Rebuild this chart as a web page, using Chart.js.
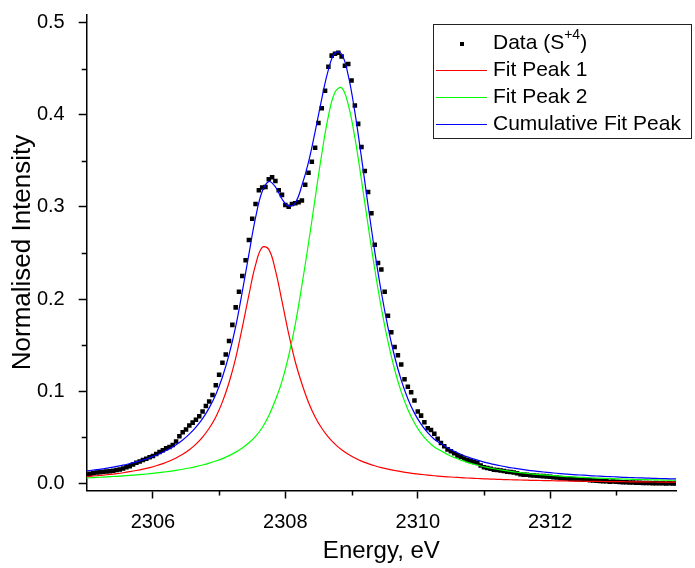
<!DOCTYPE html>
<html>
<head>
<meta charset="utf-8">
<script src="https://cdn.jsdelivr.net/npm/chart.js@4.4.1/dist/chart.umd.min.js"></script>
<style>
  html, body { margin: 0; padding: 0; background: #fff; }
  #wrap { width: 695px; height: 568px; }
</style>
</head>
<body>
<div id="wrap"><canvas id="xanes" width="695" height="568"></canvas></div>
<script>
// measured points, 0.05 eV step from 2305.00
const dataStart = 2305.0;
const dataStep = 0.05;
const dataIntensity = [
  0.0098, 0.0105, 0.0112, 0.0118, 0.0121, 0.0127, 0.0130, 0.0133, 0.0138, 0.0146, 0.0152, 0.0163, 0.0175, 0.0188, 0.0205, 0.0226, 0.0238, 0.0255, 0.0268, 0.0284,
  0.0298, 0.0320, 0.0342, 0.0360, 0.0381, 0.0396, 0.0418, 0.0455, 0.0512, 0.0555, 0.0585, 0.0628, 0.0660, 0.0692, 0.0728, 0.0780, 0.0840, 0.0890, 0.0960, 0.1065,
  0.1180, 0.1310, 0.1400, 0.1545, 0.1720, 0.1910, 0.2080, 0.2250, 0.2420, 0.2640, 0.2870, 0.3030, 0.3180, 0.3210, 0.3215, 0.3300, 0.3320, 0.3280, 0.3180, 0.3130,
  0.3020, 0.3000, 0.3030, 0.3040, 0.3050, 0.3070, 0.3240, 0.3370, 0.3490, 0.3640, 0.3910, 0.4070, 0.4260, 0.4520, 0.4640, 0.4660, 0.4670, 0.4630, 0.4530, 0.4550,
  0.4370, 0.4100, 0.3900, 0.3650, 0.3390, 0.3160, 0.2930, 0.2590, 0.2390, 0.2320, 0.2080, 0.1820, 0.1640, 0.1480, 0.1390, 0.1290, 0.1130, 0.1050, 0.0990, 0.0900,
  0.0780, 0.0736, 0.0665, 0.0600, 0.0580, 0.0540, 0.0485, 0.0440, 0.0405, 0.0370, 0.0350, 0.0328, 0.0305, 0.0290, 0.0272, 0.0255, 0.0245, 0.0232, 0.0222, 0.0195,
  0.0175, 0.0168, 0.0160, 0.0150, 0.0146, 0.0140, 0.0136, 0.0128, 0.0124, 0.0118, 0.0110, 0.0100, 0.0096, 0.0094, 0.0090, 0.0087, 0.0084, 0.0081, 0.0080, 0.0075,
  0.0072, 0.0068, 0.0066, 0.0060, 0.0058, 0.0054, 0.0051, 0.0049, 0.0046, 0.0044, 0.0042, 0.0040, 0.0036, 0.0033, 0.0031, 0.0027, 0.0025, 0.0024, 0.0020, 0.0021,
  0.0018, 0.0016, 0.0014, 0.0013, 0.0011, 0.0010, 0.0008, 0.0009, 0.0006, 0.0005, 0.0006, 0.0003, 0.0004, 0.0002, 0.0003, 0.0001, 0.0002, 0.0000, 0.0001
];

// fit curves, 0.1 eV step from 2304.95
const fitStart = 2304.95;
const fitStep = 0.1;
const fitPeak1 = [
  0.00726,
  0.00781, 0.00841, 0.00909, 0.00985, 0.01070, 0.01167, 0.01279, 0.01406, 0.01552, 0.01722,
  0.01921, 0.02155, 0.02434, 0.02768, 0.03171, 0.03664, 0.04273, 0.05034, 0.05994, 0.07219,
  0.0885, 0.1095, 0.1360, 0.1694, 0.2046, 0.2370, 0.2561, 0.2539, 0.2312, 0.1975,
  0.1625, 0.1320, 0.1081, 0.0879, 0.0722, 0.0599, 0.0503, 0.0427, 0.0366, 0.0317,
  0.0277, 0.0243, 0.0216, 0.0192, 0.0172, 0.0155, 0.0141, 0.0128, 0.0117, 0.0107,
  0.0099, 0.0091, 0.0084, 0.0078, 0.00726, 0.00678, 0.00634, 0.00594, 0.00557, 0.00524,
  0.00494, 0.00466, 0.00441, 0.00418, 0.00396, 0.00376, 0.00357, 0.00340, 0.00324, 0.00309,
  0.00295, 0.00282, 0.00270, 0.00259, 0.00248, 0.00238, 0.00229, 0.00220, 0.00212, 0.00204,
  0.00196, 0.00189, 0.00182, 0.00176, 0.00170, 0.00164, 0.00159, 0.00154, 0.00149, 0.00144
];
const fitPeak2 = [
  0.00593,
  0.00624, 0.00658, 0.00695, 0.00735, 0.00779, 0.00826, 0.00878, 0.00935, 0.00998, 0.01067,
  0.01143, 0.01228, 0.01323, 0.01428, 0.01547, 0.01681, 0.01833, 0.02007, 0.02205, 0.02434,
  0.0270, 0.0302, 0.0340, 0.0386, 0.0442, 0.0512, 0.0605, 0.0735, 0.0905, 0.1110,
  0.1385, 0.1725, 0.2150, 0.2605, 0.3093, 0.3573, 0.3983, 0.4243, 0.4292, 0.4109,
  0.3750, 0.3290, 0.2798, 0.2326, 0.1902, 0.1538, 0.1236, 0.0993, 0.0803, 0.0656,
  0.0544, 0.0460, 0.0396, 0.0355, 0.0315, 0.0282, 0.02536, 0.02293, 0.02083, 0.01900,
  0.01740, 0.01599, 0.01474, 0.01363, 0.01265, 0.01176, 0.01096, 0.01024, 0.00959, 0.00900,
  0.00846, 0.00797, 0.00752, 0.00711, 0.00673, 0.00638, 0.00605, 0.00575, 0.00547, 0.00522,
  0.00497, 0.00475, 0.00454, 0.00434, 0.00416, 0.00399, 0.00383, 0.00367, 0.00353, 0.00339
];
const fitCumulative = [
  0.0132,
  0.0141, 0.0150, 0.0160, 0.0172, 0.0185, 0.0199, 0.0216, 0.0234, 0.0255, 0.0279,
  0.0306, 0.0338, 0.0376, 0.0420, 0.0472, 0.0535, 0.0611, 0.0704, 0.0820, 0.0965,
  0.1155, 0.1397, 0.1700, 0.2080, 0.2488, 0.2882, 0.3166, 0.3274, 0.3217, 0.3085,
  0.3010, 0.3045, 0.3231, 0.3484, 0.3815, 0.4172, 0.4486, 0.4670, 0.4658, 0.4426,
  0.4027, 0.3533, 0.3014, 0.2518, 0.2074, 0.1693, 0.1377, 0.1121, 0.0920, 0.0763,
  0.0643, 0.0551, 0.0480, 0.0433, 0.0388, 0.0350, 0.0317, 0.0289, 0.0264, 0.0242,
  0.0223, 0.0207, 0.0192, 0.0178, 0.0166, 0.0155, 0.0145, 0.0136, 0.0128, 0.0121,
  0.0114, 0.0108, 0.0102, 0.0097, 0.0092, 0.0088, 0.0083, 0.0080, 0.0076, 0.0073,
  0.0069, 0.0066, 0.0064, 0.0061, 0.0059, 0.0056, 0.0054, 0.0052, 0.0050, 0.0048
];

const seriesNames = ['Data (S+4)', 'Fit Peak 1', 'Fit Peak 2', 'Cumulative Fit Peak'];
const xMinorTicks = [2307, 2309, 2311, 2313];
const yMinorTicks = [0.05, 0.15, 0.25, 0.35, 0.45];

const FONT = '"Liberation Sans", Arial, sans-serif';
Chart.defaults.font.family = FONT;
Chart.defaults.color = '#000';

function toPoints(values, start, step) {
  return values.map((v, i) => ({ x: +(start + i * step).toFixed(3), y: v }));
}

// Origin style short ticks in between the labelled ones
const minorTicks = {
  id: 'minorTicks',
  afterDraw(chart) {
    const { ctx, chartArea } = chart;
    const xs = chart.scales.x, ys = chart.scales.y;
    ctx.save();
    ctx.strokeStyle = '#000';
    ctx.lineWidth = 1.5;
    ctx.beginPath();
    xMinorTicks.forEach(v => {
      const px = Math.round(xs.getPixelForValue(v)) + 0.5;
      ctx.moveTo(px, chartArea.bottom);
      ctx.lineTo(px, chartArea.bottom + 5);
    });
    yMinorTicks.forEach(v => {
      const py = Math.round(ys.getPixelForValue(v)) + 0.5;
      ctx.moveTo(chartArea.left, py);
      ctx.lineTo(chartArea.left - 5, py);
    });
    ctx.stroke();
    ctx.restore();
  }
};

// legend box in the top right corner, with the superscript charge
const originLegend = {
  id: 'originLegend',
  afterDraw(chart) {
    const ctx = chart.ctx;
    const sets = chart.data.datasets;
    const box = { x: 433.5, y: 24.5, w: 258, h: 114 };
    const rows = [43, 70, 97, 124];
    const textX = 493;
    ctx.save();
    ctx.fillStyle = '#fff';
    ctx.fillRect(box.x, box.y, box.w, box.h);
    ctx.strokeStyle = '#222';
    ctx.lineWidth = 1;
    ctx.strokeRect(box.x, box.y, box.w, box.h);

    ctx.textBaseline = 'middle';
    ctx.textAlign = 'left';
    seriesNames.forEach((name, i) => {
      const y = rows[i];
      const ds = sets.find(d => d.label === name);
      ctx.fillStyle = '#000';
      if (i === 0) {
        ctx.fillRect(460, y - 1, 4, 4);
        // "Data (S" + sup "+4" + ")"
        const m = name.match(/^(.*S)\+(\d)(\))$/);
        ctx.font = '21px ' + FONT;
        ctx.fillText(m[1], textX, y);
        let x = textX + ctx.measureText(m[1]).width;
        ctx.font = '14px ' + FONT;
        ctx.fillText('+' + m[2], x, y - 8);
        x += ctx.measureText('+' + m[2]).width;
        ctx.font = '21px ' + FONT;
        ctx.fillText(m[3], x, y);
      } else {
        ctx.strokeStyle = ds.borderColor;
        ctx.lineWidth = 1.2;
        ctx.beginPath();
        ctx.moveTo(436, y + 0.5);
        ctx.lineTo(487, y + 0.5);
        ctx.stroke();
        ctx.font = '21px ' + FONT;
        ctx.fillText(name, textX, y);
      }
    });
    ctx.restore();
  }
};

const lineStyle = { pointRadius: 0, borderWidth: 1.2, fill: false, tension: 0.4 };

new Chart(document.getElementById('xanes'), {
  type: 'line',
  data: {
    datasets: [
      Object.assign({ label: seriesNames[3], data: toPoints(fitCumulative, fitStart, fitStep), borderColor: '#0000ff' }, lineStyle),
      Object.assign({ label: seriesNames[2], data: toPoints(fitPeak2, fitStart, fitStep), borderColor: '#00ff00' }, lineStyle),
      Object.assign({ label: seriesNames[1], data: toPoints(fitPeak1, fitStart, fitStep), borderColor: '#ff0000' }, lineStyle),
      {
        label: seriesNames[0],
        data: toPoints(dataIntensity, dataStart, dataStep),
        showLine: false,
        pointStyle: 'rect',
        pointRadius: 3.2,
        pointBorderWidth: 0,
        pointBackgroundColor: '#000',
        borderColor: '#000'
      }
    ]
  },
  options: {
    responsive: false,
    animation: false,
    devicePixelRatio: 1,
    layout: { padding: { left: 0, right: 19, top: 14.5, bottom: 0 } },
    plugins: { legend: { display: false }, tooltip: { enabled: false } },
    scales: {
      x: {
        type: 'linear',
        min: 2305,
        max: 2313.9,
        afterFit: s => { s.height = 77.5; s.paddingLeft = 0; s.paddingRight = 0; },
        border: { display: true, color: '#000', width: 1.5 },
        grid: { drawOnChartArea: false, drawTicks: true, tickLength: 8, tickColor: '#000', tickWidth: 1.5 },
        ticks: {
          stepSize: 2, includeBounds: false, autoSkip: false, maxRotation: 0,
          padding: 12, font: { size: 20 }, color: '#000',
          callback: v => String(v)
        },
        title: { display: true, text: 'Energy, eV', font: { size: 24 }, color: '#000', padding: { top: 0, bottom: 2 } }
      },
      y: {
        type: 'linear',
        min: -0.0076,
        max: 0.5086,
        // keep the plot top where the reference has it, labels may overhang
        afterFit: s => { s.width = 86.7; s.paddingTop = 0; s.paddingBottom = 0; },
        border: { display: true, color: '#000', width: 1.5 },
        grid: { drawOnChartArea: false, drawTicks: true, tickLength: 8, tickColor: '#000', tickWidth: 1.5 },
        ticks: {
          stepSize: 0.1, includeBounds: false, autoSkip: false,
          padding: 14, font: { size: 20 }, color: '#000',
          callback: v => v.toFixed(1)
        },
        title: { display: true, text: 'Normalised Intensity', font: { size: 26 }, color: '#000', padding: { top: 7, bottom: 0 } }
      }
    }
  },
  plugins: [minorTicks, originLegend]
});
</script>
</body>
</html>
